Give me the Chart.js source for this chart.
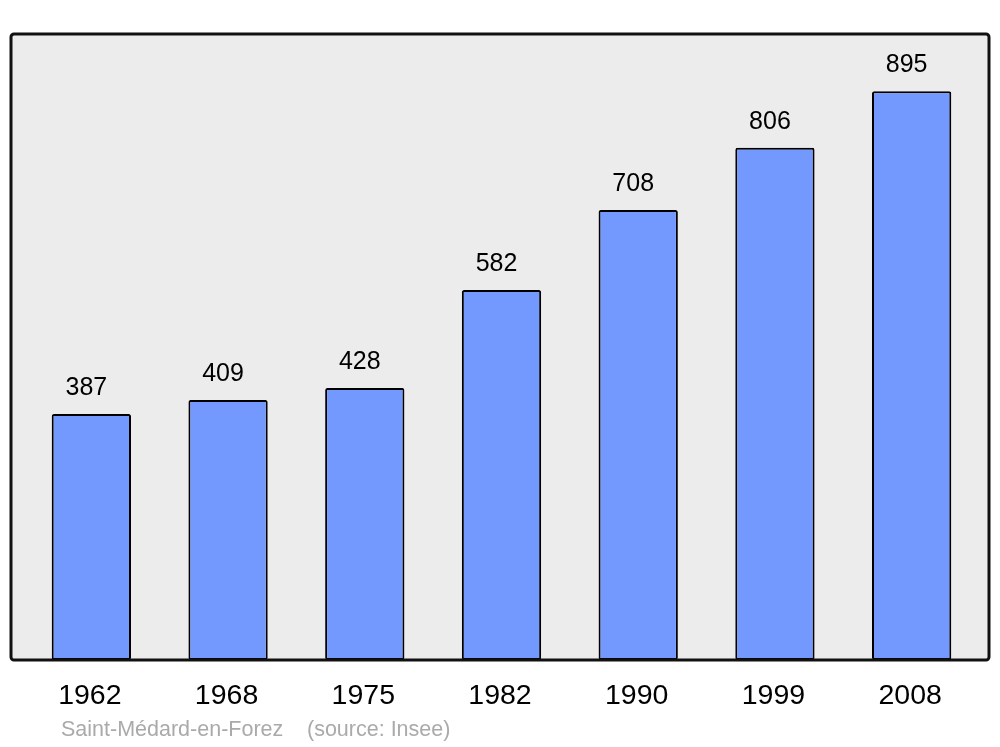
<!DOCTYPE html>
<html>
<head>
<meta charset="utf-8">
<script src="https://cdn.jsdelivr.net/npm/chart.js@4/dist/chart.umd.min.js"></script>
<style>
  html, body { margin: 0; padding: 0; background: #fff; }
  #chart { display: block; }
</style>
</head>
<body>
<canvas id="chart" width="1000" height="747"></canvas>
<script>
/* Population figures */
var years = ['1962', '1968', '1975', '1982', '1990', '1999', '2008'];
var population = [387, 409, 428, 582, 708, 806, 895];
var placeName = 'Saint-Médard-en-Forez';
var sourceName = '(source: Insee)';

var FONT = '"Liberation Sans", Arial, sans-serif';

/* grey panel with a dark rounded border behind the bars */
var panelPlugin = {
  id: 'panel',
  beforeDatasetsDraw: function(chart) {
    var a = chart.chartArea, ctx = chart.ctx;
    var x = a.left - 12, y = a.top, w = (a.right + 9) - x, h = a.bottom - a.top;
    ctx.save();
    ctx.beginPath();
    ctx.roundRect(x, y, w, h, 3);
    ctx.fillStyle = '#ececec';
    ctx.fill();
    ctx.restore();
  },
  afterDatasetsDraw: function(chart) {
    var a = chart.chartArea, ctx = chart.ctx;
    var x = a.left - 12, y = a.top, w = (a.right + 9) - x, h = a.bottom - a.top;
    ctx.save();
    ctx.beginPath();
    ctx.roundRect(x, y, w, h, 3);
    ctx.lineWidth = 3;
    ctx.strokeStyle = '#111';
    ctx.stroke();
    ctx.restore();
  }
};

/* numbers above each bar */
var valueLabels = {
  id: 'valueLabels',
  afterDatasetsDraw: function(chart) {
    var ctx = chart.ctx;
    var meta = chart.getDatasetMeta(0);
    ctx.save();
    ctx.font = '25px ' + FONT;
    ctx.fillStyle = '#000';
    ctx.textAlign = 'center';
    ctx.textBaseline = 'middle';
    meta.data.forEach(function(bar, i) {
      ctx.fillText(String(population[i]), bar.x - 5, bar.y - 26);
    });
    ctx.restore();
  }
};

/* source line under the axis */
var sourceLine = {
  id: 'sourceLine',
  afterDraw: function(chart) {
    var ctx = chart.ctx;
    ctx.save();
    ctx.font = '21.5px ' + FONT;
    ctx.fillStyle = '#aaaaaa';
    ctx.textAlign = 'left';
    ctx.textBaseline = 'middle';
    ctx.fillText(placeName, 61, 730);
    ctx.fillText(sourceName, 307, 730);
    ctx.restore();
  }
};

var ctx = document.getElementById('chart').getContext('2d');
var myChart = new Chart(ctx, {
  type: 'bar',
  data: {
    labels: years,
    datasets: [{
      data: population,
      backgroundColor: '#7399ff',
      borderColor: '#000',
      borderWidth: 2,
      borderRadius: 2,
      borderSkipped: false,
      barPercentage: 0.58,
      categoryPercentage: 1
    }]
  },
  options: {
    responsive: false,
    animation: false,
    layout: { padding: { left: 23, right: 20, top: 34, bottom: 0 } },
    plugins: {
      legend: { display: false },
      tooltip: { enabled: false }
    },
    scales: {
      x: {
        grid: { display: false, drawTicks: false },
        border: { display: false },
        ticks: {
          color: '#000',
          font: { family: FONT, size: 28.5 },
          padding: 19,
          labelOffset: -1.5
        },
        afterFit: function(axis) { axis.height = 87; }
      },
      y: {
        display: false,
        min: 0,
        max: 985
      }
    }
  },
  plugins: [panelPlugin, valueLabels, sourceLine]
});
</script>
</body>
</html>
